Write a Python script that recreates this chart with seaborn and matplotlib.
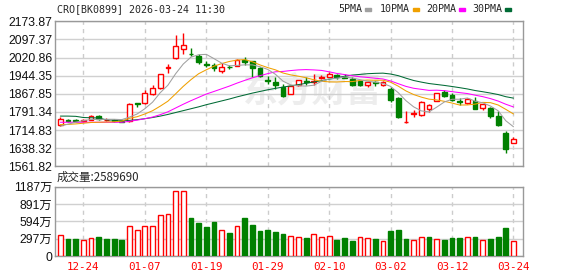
import numpy as np
import pandas as pd
import matplotlib
matplotlib.use('Agg')
import matplotlib.pyplot as plt
import seaborn as sns
from matplotlib.patches import Rectangle

# 日K数据
opens = [1735, 1757, 1756, 1752, 1759, 1774, 1757, 1756, 1752, 1755,
         1829, 1828, 1866, 1892, 1976, 2017, 2057, 2038, 2029, 1993,
         1991, 1965, 1982, 1986, 2010, 2005, 1977, 1926, 1918, 1897,
         1869, 1904, 1920, 1916, 1936, 1941, 1949, 1940, 1929, 1920,
         1904, 1917, 1905, 1887, 1850, 1749, 1782, 1780, 1803, 1838,
         1877, 1864, 1838, 1831, 1838, 1808, 1808, 1774, 1703, 1662]
highs = [1770, 1763, 1762, 1761, 1778, 1777, 1767, 1760, 1756, 1829,
         1830, 1883, 1905, 1952, 1992, 2114, 2124, 2061, 2034, 2005,
         1999, 1996, 1988, 2014, 2023, 2008, 1980, 1943, 1941, 1909,
         1902, 1927, 1937, 1953, 1949, 1962, 1953, 1951, 1937, 1922,
         1920, 1923, 1920, 1895, 1855, 1795, 1800, 1836, 1826, 1873,
         1883, 1871, 1849, 1849, 1855, 1827, 1812, 1794, 1711, 1686]
lows = [1732, 1749, 1747, 1749, 1757, 1757, 1754, 1750, 1747, 1751,
        1812, 1826, 1864, 1890, 1954, 2015, 2037, 2026, 1992, 1980,
        1963, 1954, 1971, 1984, 1988, 1940, 1937, 1909, 1890, 1856,
        1866, 1901, 1906, 1904, 1929, 1938, 1932, 1933, 1903, 1903,
        1898, 1903, 1903, 1833, 1766, 1746, 1770, 1775, 1791, 1836,
        1855, 1836, 1822, 1826, 1805, 1798, 1767, 1733, 1620, 1660]
closes = [1760, 1755, 1754, 1757, 1773, 1760, 1759, 1754, 1750, 1825,
          1827, 1870, 1891, 1950, 1983, 2068, 2076, 2036, 2001, 1991,
          1978, 1981, 1980, 2009, 2003, 1977, 1942, 1924, 1906, 1857,
          1899, 1925, 1916, 1924, 1940, 1951, 1937, 1936, 1904, 1905,
          1918, 1915, 1918, 1840, 1772, 1750, 1785, 1833, 1819, 1872,
          1859, 1842, 1834, 1845, 1805, 1824, 1774, 1735, 1634, 1678]

# 均线
ma5 = [1732, 1740, 1748, 1755, 1759.8, 1759.8, 1760.6, 1760.6, 1759.2, 1769.6,
       1783, 1805.2, 1832.6, 1872.6, 1904.2, 1952.4, 1993.6, 2022.6, 2032.8, 2034.4,
       2016.4, 1997.4, 1986.2, 1987.8, 1990.2, 1990, 1982.2, 1971, 1950.4, 1921.2,
       1905.6, 1902.2, 1900.6, 1904.2, 1920.8, 1931.2, 1933.6, 1938.8, 1934.8, 1927.8,
       1921.2, 1916.8, 1912, 1899.2, 1872.6, 1839, 1813, 1796, 1791.8, 1811.8,
       1833.6, 1845, 1845.2, 1850.4, 1837, 1830, 1816.4, 1796.6, 1754.4, 1729]
ma10 = [1738, 1739, 1741, 1744, 1747, 1748, 1749, 1750, 1753, 1764.7,
        1771.4, 1782.9, 1796.6, 1815.9, 1836.9, 1867.7, 1899.4, 1927.6, 1952.7, 1969.3,
        1984.4, 1995.5, 2004.4, 2010.3, 2012.3, 2003.2, 1989.8, 1978.6, 1969.1, 1955.7,
        1947.8, 1942.2, 1935.8, 1927.3, 1921, 1918.4, 1917.9, 1919.7, 1919.5, 1924.3,
        1926.2, 1925.2, 1925.4, 1917, 1900.2, 1880.1, 1864.9, 1854, 1845.5, 1842.2,
        1836.3, 1829, 1820.6, 1821.1, 1824.4, 1831.8, 1830.7, 1820.9, 1802.4, 1783]
ma20 = [1748, 1748, 1748, 1748, 1748, 1748, 1748, 1748, 1748, 1752,
        1757, 1763, 1770, 1780, 1792, 1808, 1824, 1839, 1853, 1867,
        1877.9, 1889.2, 1900.5, 1913.1, 1924.6, 1935.5, 1944.6, 1953.1, 1960.9, 1962.5,
        1966.1, 1968.9, 1970.1, 1968.8, 1966.7, 1960.8, 1953.9, 1949.2, 1944.3, 1940,
        1937, 1933.7, 1930.6, 1922.2, 1910.6, 1899.3, 1891.4, 1886.9, 1882.5, 1883.3,
        1881.3, 1877.1, 1873, 1869.1, 1862.3, 1856, 1847.8, 1837.5, 1824, 1812.6]
ma30 = [1774, 1774, 1773, 1768, 1767, 1766, 1758, 1757, 1756, 1756,
        1759, 1763, 1768, 1774, 1781, 1789, 1797, 1805, 1813, 1822,
        1830, 1838, 1846, 1855, 1863, 1871, 1878, 1885, 1891, 1896.6,
        1901.2, 1906.9, 1912.3, 1917.8, 1923.4, 1929.8, 1935.7, 1942, 1947.1, 1949.8,
        1952.8, 1954.3, 1955.2, 1951.5, 1944.5, 1933.9, 1924.2, 1917.4, 1911.4, 1907.4,
        1903.4, 1898.8, 1893.9, 1888.5, 1881.9, 1876.8, 1871.2, 1864.9, 1855.8, 1849.8]

# 成交量 (万)
volumes = [358, 290, 290, 273, 307, 324, 290, 290, 278, 511,
           443, 511, 511, 699, 716, 1108, 1108, 653, 568, 500,
           585, 443, 398, 511, 653, 534, 432, 449, 415, 381,
           341, 324, 312, 375, 324, 341, 278, 312, 261, 324,
           307, 295, 261, 432, 449, 295, 273, 324, 329, 295,
           278, 312, 312, 324, 329, 278, 295, 329, 483, 259]
vol_up = [1, 0, 0, 1, 1, 0, 0, 0, 0, 1,
          1, 1, 1, 1, 1, 1, 1, 0, 0, 0,
          0, 1, 0, 1, 0, 0, 0, 0, 0, 0,
          1, 1, 0, 1, 1, 1, 0, 0, 0, 1,
          1, 0, 1, 0, 0, 0, 1, 1, 0, 1,
          0, 0, 0, 1, 0, 1, 0, 0, 0, 1]

date_ticks = [3, 11, 19, 27, 35, 43, 51, 59]
date_labels = ['12-24', '01-07', '01-19', '01-29', '02-10', '03-02', '03-12', '03-24']
price_ticks = [1561.82, 1638.32, 1714.83, 1791.34, 1867.85, 1944.35, 2020.86, 2097.37, 2173.87]
vol_ticks = [0, 297, 594, 891, 1187]
vol_labels = ['0', '297万', '594万', '891万', '1187万']

RED = '#ff0000'
GREEN = '#008000'

sns.set_style('white')
plt.rcParams['font.family'] = ['Liberation Sans', 'Noto Sans CJK SC']

df = pd.DataFrame({'open': opens, 'high': highs, 'low': lows, 'close': closes,
                   'ma5': ma5, 'ma10': ma10, 'ma20': ma20, 'ma30': ma30,
                   'vol': volumes, 'vol_up': vol_up})
df['x'] = np.arange(len(df))
up = df['close'] >= df['open']

W, H = 578, 276
fig = plt.figure(figsize=(W / 100, H / 100), dpi=100)


def box(l, t, r, b):
    return [l / W, 1 - b / H, (r - l) / W, (b - t) / H]


ax = fig.add_axes(box(55, 21.3, 522.7, 166.4))
axv = fig.add_axes(box(55, 186.7, 522.7, 256.3))

# K线
cc = np.where(up, RED, GREEN)
ax.vlines(df['x'], df['low'], df['high'], colors=cc, linewidth=1, zorder=2)
ax.bar(df['x'], (df['close'] - df['open']).abs(), bottom=df[['open', 'close']].min(axis=1),
       width=0.62, color=np.where(up, 'white', GREEN), edgecolor=cc, linewidth=1, zorder=3)

# 均线
for col, c in [('ma30', '#006b35'), ('ma20', '#ff00ff'), ('ma10', '#f0a000'), ('ma5', '#a0a0a0')]:
    sns.lineplot(data=df, x='x', y=col, color=c, linewidth=0.75, ax=ax, zorder=4)

# 水印
ax.text(0.55, 0.52, '东方财富', transform=ax.transAxes, ha='center', va='center',
        fontsize=25, color='#ededed', fontweight='bold', family=['Noto Sans CJK SC'], zorder=0.5)

# 成交量
vc = np.where(df['vol_up'] == 1, RED, GREEN)
axv.bar(df['x'], df['vol'], width=0.62, color=np.where(df['vol_up'] == 1, 'white', GREEN),
        edgecolor=vc, linewidth=1, zorder=3)

for a in (ax, axv):
    a.set_xlim(-0.7, 60.2)
    a.set_xticks(date_ticks)
    a.set_xlabel('')
    a.set_ylabel('')
    a.grid(axis='y', color='#d0d0d0', linewidth=1, linestyle='-')
    a.grid(axis='x', color='#cccccc', linewidth=1, linestyle=(0, (3, 3)))
    a.set_axisbelow(True)
    for s in a.spines.values():
        s.set_color('#999999')
        s.set_linewidth(1)
    a.tick_params(length=0, pad=2, labelsize=8.8, labelcolor='#111111')

ax.set_ylim(1561.82, 2173.87)
ax.set_yticks(price_ticks)
ax.set_yticklabels(['%.2f' % v for v in price_ticks])
ax.set_xticklabels([])

axv.set_ylim(0, 1187)
axv.set_yticks(vol_ticks)
axv.set_yticklabels(vol_labels)
axv.set_xticklabels(date_labels, color=RED, family='DejaVu Sans Mono', fontsize=7.8)
axv.tick_params(axis='x', pad=4)

mono = 'DejaVu Sans Mono'
fig.text(57 / W, 1 - 9.5 / H, 'CRO[BK0899] 2026-03-24 11:30', family=mono, fontsize=7.2, va='center')
fig.text(57 / W, 1 - 177 / H, '成交量:2589690', family=['Noto Sans CJK SC'], fontsize=8.3, va='center')

for lx, mx, lab, c in [(338, 365, '5PMA', '#a0a0a0'), (380, 413, '10PMA', '#f0a000'),
                       (426, 459, '20PMA', '#ff00ff'), (472, 505, '30PMA', '#006b35')]:
    fig.text(lx / W, 1 - 9.5 / H, lab, family=mono, fontsize=7.2, va='center')
    fig.patches.append(Rectangle((mx / W, 1 - 11 / H), 5.5 / W, 3 / H, color=c,
                                 transform=fig.transFigure, figure=fig))

fig.savefig('out.png', dpi=100)
